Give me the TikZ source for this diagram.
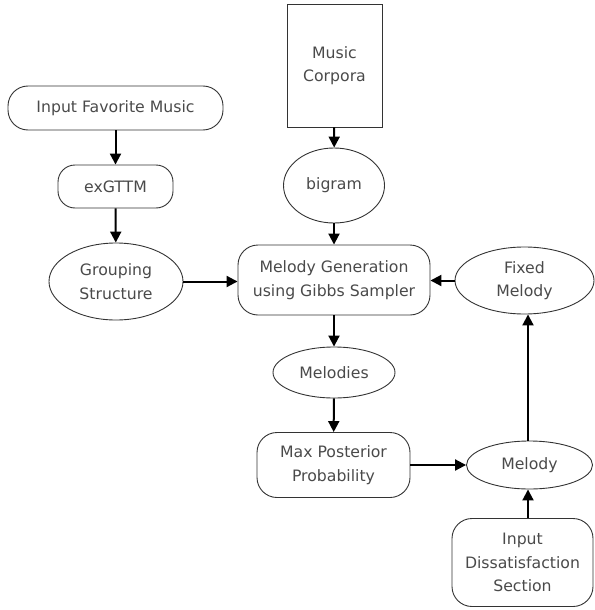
\documentclass[tikz,border=0pt]{standalone}
\usepackage{fontspec}
\setmainfont{DejaVu Sans}
\usetikzlibrary{shapes.geometric,arrows.meta}
\definecolor{txt}{HTML}{4A4A4A}
\definecolor{edge}{HTML}{333333}
\tikzset{
  every node/.style={font=\fontsize{15.7}{23.5}\selectfont, text=txt, align=center, inner sep=0pt},
  rbox/.style={draw=edge, line width=0.9pt, rectangle, rounded corners=#1},
  rbox/.default=18pt,
  ebox/.style={draw=edge, line width=0.9pt, ellipse},
  sbox/.style={draw=edge, line width=0.9pt, rectangle},
  conn/.style={draw=black, line width=2pt, -{Triangle[width=11pt,length=11pt]}}
}
\begin{document}
\begin{tikzpicture}[x=1pt,y=-1pt]
\useasboundingbox (0,0) rectangle (594,610);
\node[sbox, minimum width=95pt, minimum height=123pt] (corp) at (334.5,65.5) {Music\\Corpora};
\node[ebox, minimum width=101pt, minimum height=75pt] (bigram) at (334,185.5) {bigram};
\node[rbox=20pt, minimum width=215pt, minimum height=44pt] (input) at (115.5,108) {Input Favorite Music};
\node[rbox=17pt, minimum width=115pt, minimum height=43pt] (gttm) at (115.5,186.5) {exGTTM};
\node[ebox, minimum width=134pt, minimum height=77pt] (group) at (116,281.5) {Grouping\\Structure};
\node[rbox=20pt, minimum width=192pt, minimum height=70pt] (gen) at (334,280) {Melody Generation\\using Gibbs Sampler};
\node[ebox, minimum width=139pt, minimum height=67pt] (fixed) at (524.5,280.5) {Fixed\\Melody};
\node[ebox, minimum width=122pt, minimum height=51pt] (melodies) at (334,372.5) {Melodies};
\node[rbox=20pt, minimum width=153pt, minimum height=65pt] (maxp) at (333.5,465) {Max Posterior\\Probability};
\node[ebox, minimum width=126pt, minimum height=48pt] (melody) at (529.5,465) {Melody};
\node[rbox=20pt, minimum width=141pt, minimum height=88pt] (dis) at (522.5,562.5) {Input\\Dissatisfaction\\Section};
\coordinate (vx1) at (528,0);
\draw[conn] (corp) -- (bigram);
\draw[conn] (bigram) -- (gen);
\draw[conn] (input) -- (gttm);
\draw[conn] (gttm) -- (group);
\draw[conn] (group.east) -- (group.east -| gen.west);
\draw[conn] (fixed.west) -- (fixed.west -| gen.east);
\draw[conn] (gen) -- (melodies);
\draw[conn] (melodies) -- (maxp);
\draw[conn] (maxp.east) -- (melody.west);
\draw[conn] (vx1 |- melody.north) -- (vx1 |- fixed.south);
\draw[conn] (vx1 |- dis.north) -- (vx1 |- melody.south);
\end{tikzpicture}
\end{document}
